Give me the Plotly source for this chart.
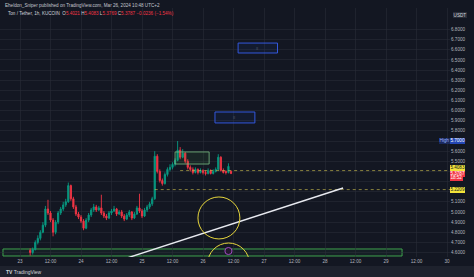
import plotly.graph_objects as go
import pandas as pd

# ---------------- data ----------------
first_candle = "2024-03-23 04:00"   # 1h candles
opens = [4.62, 4.60, 4.63, 4.70, 4.74, 4.80, 4.87, 5.03, 4.99, 4.92,
         4.80, 4.90, 4.99, 5.03, 5.07, 5.10, 5.26, 5.13, 5.05, 4.98,
         4.95, 4.91, 4.84, 4.92, 4.97, 5.02, 5.05, 5.02, 5.04, 4.99,
         4.96, 4.94, 4.99, 5.01, 5.03, 4.98, 5.00, 4.96, 4.93, 4.97,
         5.00, 4.94, 4.98, 5.04, 5.01, 4.96, 5.02, 5.05, 5.08, 5.13,
         5.55, 5.40, 5.31, 5.28, 5.37, 5.42, 5.44, 5.47, 5.51, 5.61,
         5.54, 5.58, 5.50, 5.44, 5.42, 5.39, 5.42, 5.39, 5.41, 5.39,
         5.38, 5.41, 5.38, 5.40, 5.42, 5.54, 5.41, 5.40, 5.39, 5.4021]
closes = [4.60, 4.63, 4.70, 4.74, 4.80, 4.87, 5.03, 4.99, 4.92, 4.80,
          4.90, 4.99, 5.03, 5.07, 5.10, 5.26, 5.13, 5.05, 4.98, 4.95,
          4.91, 4.84, 4.92, 4.97, 5.02, 5.05, 5.02, 5.04, 4.99, 4.96,
          4.94, 4.99, 5.01, 5.03, 4.98, 5.00, 4.96, 4.93, 4.97, 5.00,
          4.94, 4.98, 5.04, 5.01, 4.96, 5.02, 5.05, 5.08, 5.13, 5.55,
          5.40, 5.31, 5.28, 5.37, 5.42, 5.44, 5.47, 5.51, 5.61, 5.54,
          5.58, 5.50, 5.44, 5.42, 5.39, 5.42, 5.39, 5.41, 5.39, 5.38,
          5.41, 5.38, 5.40, 5.42, 5.54, 5.41, 5.39, 5.39, 5.45, 5.3787]
highs = [4.64, 4.65, 4.72, 4.77, 4.82, 4.90, 5.06, 5.12, 5.01, 4.94,
         4.92, 5.01, 5.05, 5.10, 5.13, 5.29, 5.27, 5.15, 5.07, 5.00,
         4.97, 4.93, 4.94, 4.99, 5.04, 5.08, 5.07, 5.06, 5.17, 5.01,
         4.98, 5.01, 5.03, 5.06, 5.04, 5.02, 5.02, 4.98, 4.99, 5.02,
         5.01, 5.00, 5.06, 5.18, 5.03, 5.04, 5.07, 5.10, 5.15, 5.60,
         5.57, 5.42, 5.33, 5.39, 5.44, 5.47, 5.49, 5.53, 5.70, 5.64,
         5.62, 5.59, 5.52, 5.46, 5.44, 5.44, 5.43, 5.43, 5.42, 5.41,
         5.43, 5.42, 5.42, 5.44, 5.57, 5.55, 5.43, 5.41, 5.48, 5.4083]
lows = [4.57, 4.58, 4.62, 4.68, 4.72, 4.79, 4.85, 4.97, 4.90, 4.76,
        4.78, 4.88, 4.97, 5.01, 5.05, 5.09, 5.11, 5.03, 4.96, 4.93,
        4.89, 4.82, 4.83, 4.90, 4.95, 5.00, 5.00, 5.01, 4.97, 4.94,
        4.92, 4.93, 4.97, 5.00, 4.96, 4.97, 4.94, 4.91, 4.92, 4.95,
        4.92, 4.93, 4.97, 4.99, 4.94, 4.95, 5.00, 5.03, 5.06, 5.12,
        5.38, 5.29, 5.26, 5.27, 5.35, 5.40, 5.42, 5.45, 5.50, 5.52,
        5.53, 5.48, 5.42, 5.40, 5.37, 5.38, 5.37, 5.38, 5.37, 5.36,
        5.37, 5.37, 5.37, 5.39, 5.41, 5.40, 5.38, 5.37, 5.38, 5.3769]

x_tick_dates = ["2024-03-23 00:00", "2024-03-23 12:00", "2024-03-24 00:00", "2024-03-24 12:00",
                "2024-03-25 00:00", "2024-03-25 12:00", "2024-03-26 00:00", "2024-03-26 12:00",
                "2024-03-27 00:00", "2024-03-27 12:00", "2024-03-28 00:00", "2024-03-28 12:00",
                "2024-03-29 00:00", "2024-03-29 12:00", "2024-03-30 00:00"]
x_tick_text = ["23", "12:00", "24", "12:00", "25", "12:00", "26", "12:00",
               "27", "12:00", "28", "12:00", "29", "12:00", "30"]
y_tick_vals = [4.6, 4.7, 4.8, 4.9, 5.0, 5.1, 5.2, 5.3, 5.4, 5.5, 5.6, 5.7,
               5.8, 5.9, 6.0, 6.1, 6.2, 6.3, 6.4, 6.5, 6.6, 6.7, 6.8]
# tick labels hidden behind the price labels (5.2, 5.3, 5.4)
y_tick_text = ["4.6000", "4.7000", "4.8000", "4.9000", "5.0000", "5.1000", "", "", "",
               "5.5000", "5.6000", "5.7000", "5.8000", "5.9000", "6.0000", "6.1000", "6.2000",
               "6.3000", "6.4000", "6.5000", "6.6000", "6.7000", "6.8000"]

last_price = 5.3787
countdown = "18:52"
high_price = 5.7000
level_a = 5.4083
level_b = 5.2209

# ---------------- style ----------------
BG = "#131722"
GRID = "rgba(42,46,57,0.55)"
UP = "#089981"
DN = "#f23645"
TXT = "#b2b5be"
YEL = "#e6d63c"
FONT = "Liberation Sans"

times = pd.date_range(first_candle, periods=len(closes), freq="h")
base = pd.Timestamp("2024-03-23 00:00")


def T(h):
    return (base + pd.Timedelta(hours=h)).isoformat(sep=" ")


x_range = [T(-7.87), T(169.16)]
y_range = [4.556, 7.0117]

fig = go.Figure()
fig.add_trace(go.Candlestick(
    x=times, open=opens, high=highs, low=lows, close=closes,
    increasing=dict(line=dict(color=UP, width=0.9), fillcolor=UP),
    decreasing=dict(line=dict(color=DN, width=0.9), fillcolor=DN),
    whiskerwidth=0, hoverinfo="skip", showlegend=False))

shapes = []
# bottom green zone
shapes.append(dict(type="rect", xref="x", yref="y", x0=T(-6.7), x1=T(150.3), y0=4.566, y1=4.635,
                   line=dict(color="#3fa34d", width=1), fillcolor="rgba(76,175,80,0.06)", layer="below"))
# small green box near top
shapes.append(dict(type="rect", xref="x", yref="y", x0=T(61.0), x1=T(74.4), y0=5.473, y1=5.592,
                   line=dict(color="rgba(120,190,130,0.8)", width=1), fillcolor="rgba(76,175,80,0.10)"))
# blue boxes
shapes.append(dict(type="rect", xref="x", yref="y", x0=T(85.8), x1=T(101.3), y0=6.568, y1=6.666,
                   line=dict(color="#3358dd", width=1), fillcolor="rgba(41,98,255,0.06)"))
shapes.append(dict(type="rect", xref="x", yref="y", x0=T(76.7), x1=T(92.4), y0=5.878, y1=5.986,
                   line=dict(color="#3358dd", width=1), fillcolor="rgba(41,98,255,0.06)"))
# dotted yellow rays
shapes.append(dict(type="line", xref="x", yref="y", x0=T(63.0), x1=x_range[1], y0=level_a, y1=level_a,
                   line=dict(color="rgba(215,200,80,0.6)", width=1, dash="dot")))
shapes.append(dict(type="line", xref="x", yref="y", x0=T(53.0), x1=x_range[1], y0=level_b, y1=level_b,
                   line=dict(color="rgba(215,200,80,0.6)", width=1, dash="dot")))
# trend line
shapes.append(dict(type="line", xref="x", yref="y", x0=T(37.4), y0=4.508, x1=T(127.1), y1=5.2365,
                   line=dict(color="#e8eaf0", width=1.4)))
# yellow circles
shapes.append(dict(type="circle", xref="x", yref="y", x0=T(70.0), x1=T(86.5), y0=4.734, y1=5.148,
                   line=dict(color=YEL, width=1)))
shapes.append(dict(type="circle", xref="x", yref="y", x0=T(73.8), x1=T(90.3), y0=4.28, y1=4.694,
                   line=dict(color=YEL, width=1)))
# purple event marker
shapes.append(dict(type="circle", xref="x", yref="y", x0=T(80.6), x1=T(83.4), y0=4.58, y1=4.65,
                   line=dict(color="#a24bc2", width=1), fillcolor="#24182f"))
# bottom strip
shapes.append(dict(type="rect", xref="paper", yref="paper", x0=0, x1=474 / 450, y0=(257 - 277) / 249,
                   y1=(257 - 266) / 249, line=dict(width=0), fillcolor="#1e222d"))

ann = []


def px_x(px):
    return px / 450


def px_y(py):
    return (257 - py) / 249


def label(text, y, bg, fg, xanchor="left", yshift=0):
    return dict(xref="paper", yref="y", x=1, y=y, yshift=yshift, xanchor=xanchor, yanchor="middle",
                text=text, showarrow=False, bgcolor=bg, borderpad=0.4, borderwidth=0,
                font=dict(family=FONT, size=4.6, color=fg))


ann.append(dict(xref="paper", yref="paper", x=px_x(3), y=px_y(5), xanchor="left", yanchor="middle",
                text="Eheldon_Sniper published on TradingView.com, Mar 26, 2024 10:48 UTC+2",
                showarrow=False, font=dict(family=FONT, size=4.6, color="#c3c6ce")))
r = "<span style='color:%s'>%%s</span>" % DN
legend = ("Ton / Tether, 1h, KUCOIN  O" + r % "5.4021" + " H" + r % "5.4083" + " L" + r % "5.3769"
          + " C" + r % "5.3787" + " " + r % "\u22120.0236 (\u22121.54%)")
ann.append(dict(xref="paper", yref="paper", x=px_x(6), y=px_y(14), xanchor="left", yanchor="middle",
                text=legend, showarrow=False, font=dict(family=FONT, size=4.6, color="#d1d4dc")))
# USDT label
ann.append(dict(xref="paper", yref="paper", x=px_x(459.5), y=px_y(15), xanchor="center", yanchor="middle",
                text="USDT", showarrow=False, bgcolor="#2a2e39", borderpad=0.6, borderwidth=0,
                font=dict(family=FONT, size=4.6, color="#d1d4dc")))
# price labels on axis
ann.append(label("High", high_price, "#1b2a5c", "#9db4ff", xanchor="right"))
ann.append(label("%.4f" % high_price, high_price, "#2447b5", "#ffffff"))
ann.append(label("%.4f" % level_a, level_a, "#f2e33a", "#131722", yshift=3))
ann.append(label("%.4f" % last_price, last_price, DN, "#ffffff"))
ann.append(label(countdown, last_price, DN, "#ffffff", yshift=-4.6))
ann.append(label("%.4f" % level_b, level_b, "#f2e33a", "#131722"))
# box notes
ann.append(dict(xref="x", yref="y", x=T(93.5), y=6.617, text="\u2261", showarrow=False,
                font=dict(family=FONT, size=4, color="#6f7385")))
ann.append(dict(xref="x", yref="y", x=T(84.5), y=5.932, text="\u2261", showarrow=False,
                font=dict(family=FONT, size=4, color="#6f7385")))
# TradingView logo
ann.append(dict(xref="paper", yref="paper", x=px_x(4), y=px_y(271.5), xanchor="left", yanchor="middle",
                text="<b>TV</b> TradingView", showarrow=False,
                font=dict(family=FONT, size=5, color="#d1d4dc")))

fig.update_layout(
    width=474, height=277,
    margin=dict(l=0, r=24, t=8, b=20),
    paper_bgcolor=BG, plot_bgcolor=BG,
    shapes=shapes, annotations=ann,
    showlegend=False,
    xaxis=dict(type="date", range=x_range, rangeslider=dict(visible=False),
               tickvals=x_tick_dates, ticktext=x_tick_text, ticks="", ticklen=0,
               tickfont=dict(family=FONT, size=4.6, color=TXT),
               showgrid=True, gridcolor=GRID, gridwidth=1, zeroline=False, showline=False),
    yaxis=dict(side="right", range=y_range, tickvals=y_tick_vals, ticktext=y_tick_text,
               ticks="", tickfont=dict(family=FONT, size=4.6, color=TXT),
               showgrid=True, gridcolor=GRID, gridwidth=1, zeroline=False, showline=False),
)

fig.write_html("out.html")
